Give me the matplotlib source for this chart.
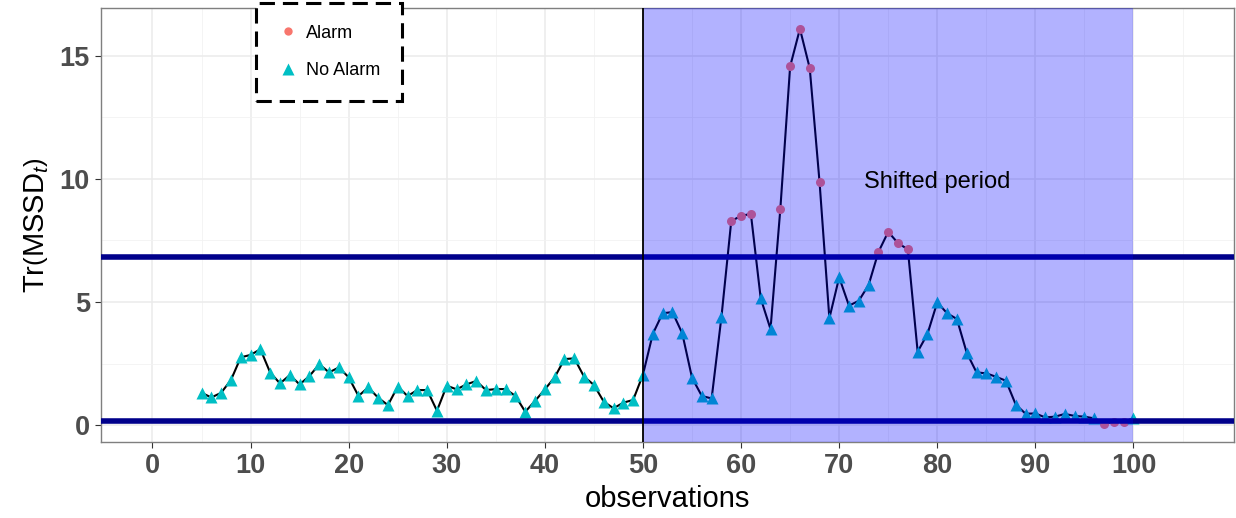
import numpy as np
import matplotlib
matplotlib.use("Agg")
import matplotlib.pyplot as plt
from matplotlib.lines import Line2D

plt.rcParams["font.family"] = ["Liberation Sans", "DejaVu Sans"]
plt.rcParams["mathtext.fontset"] = "custom"
plt.rcParams["mathtext.rm"] = "Liberation Sans"
plt.rcParams["mathtext.it"] = "Liberation Sans:italic"

# ---------------- data ----------------
obs = np.arange(5, 101)
mssd = [1.31, 1.12, 1.31, 1.83, 2.75, 2.85, 3.08, 2.13, 1.69, 2.03,
        1.65, 1.99, 2.47, 2.14, 2.34, 1.94, 1.18, 1.53, 1.11, 0.81,
        1.56, 1.18, 1.42, 1.42, 0.58, 1.60, 1.45, 1.65, 1.79, 1.42,
        1.46, 1.46, 1.18, 0.54, 0.98, 1.45, 1.94, 2.68, 2.71, 1.96,
        1.63, 0.95, 0.68, 0.91, 1.02, 2.05, 3.70, 4.54, 4.59, 3.73,
        1.92, 1.18, 1.08, 4.40, 8.29, 8.50, 8.58, 5.15, 3.90, 8.77,
        14.57, 16.10, 14.50, 9.87, 4.34, 6.00, 4.85, 5.05, 5.69, 7.03,
        7.85, 7.39, 7.14, 2.98, 3.70, 4.99, 4.54, 4.31, 2.94, 2.14,
        2.10, 1.96, 1.80, 0.83, 0.46, 0.47, 0.31, 0.34, 0.45, 0.37,
        0.34, 0.27, 0.06, 0.13, 0.13, 0.27]
alarm_obs = [59, 60, 61, 64, 65, 66, 67, 68, 74, 75, 76, 77, 97, 98, 99]
upper_limit = 6.83
lower_limit = 0.16
shift_start, shift_end = 50, 100

mssd = np.array(mssd)
is_alarm = np.isin(obs, alarm_obs)

ALARM_COL = "#F8766D"
NOALARM_COL = "#00BFC4"
GRAY = "#4D4D4D"

fig = plt.figure(figsize=(12.36, 5.18), dpi=100)
ax = fig.add_axes([0.0817, 0.1467, 0.9167, 0.838])

ax.plot(obs, mssd, color="black", lw=1.5, zorder=3)
ax.plot(obs[is_alarm], mssd[is_alarm], "o", color=ALARM_COL, ms=6.5,
        mec="none", zorder=4)
ax.plot(obs[~is_alarm], mssd[~is_alarm], "^", color=NOALARM_COL, ms=9,
        mec="none", zorder=4)

ax.axhline(upper_limit, color="#00008B", lw=4, zorder=5)
ax.axhline(lower_limit, color="#00008B", lw=4, zorder=5)
ax.axvspan(shift_start, shift_end, color="blue", alpha=0.3, lw=0, zorder=6)
ax.axvline(shift_start, color="black", lw=1.3, zorder=7)
ax.text(80, 9.63, "Shifted period", fontsize=17, ha="center", va="baseline",
        zorder=8)

# ---------------- axes styling (theme_bw look) ----------------
ax.set_xlim(-5.25, 110.25)
ax.set_ylim(-0.69, 16.95)
ax.set_xticks(np.arange(0, 101, 10))
ax.set_xticks(np.arange(5, 111, 10), minor=True)
ax.set_yticks([0, 5, 10, 15])
ax.set_yticks([2.5, 7.5, 12.5], minor=True)
ax.grid(which="major", color="#EBEBEB", lw=1.1, zorder=0)
ax.grid(which="minor", color="#F2F2F2", lw=0.6, zorder=0)
ax.set_axisbelow(True)
for s in ax.spines.values():
    s.set_color("#7F7F7F")
    s.set_linewidth(1.0)
ax.tick_params(which="major", length=4, color="#333333", labelsize=19.5,
               labelcolor=GRAY, pad=4)
ax.tick_params(which="minor", length=0)
for lab in ax.get_xticklabels() + ax.get_yticklabels():
    lab.set_fontweight("bold")

ax.set_xlabel("observations", fontsize=21, labelpad=4.5)
ax.set_ylabel(r"$\mathrm{Tr}\left(\mathrm{MSSD}_t\right)$", fontsize=21,
              labelpad=6)

handles = [Line2D([], [], marker="o", ls="", color=ALARM_COL, ms=6, mec="none"),
           Line2D([], [], marker="^", ls="", color=NOALARM_COL, ms=8, mec="none")]
leg = fig.legend(handles, ["Alarm", "No Alarm"], loc="upper left",
                 bbox_to_anchor=(0.2071, 0.9942), borderaxespad=0,
                 fontsize=13, frameon=True, fancybox=False,
                 handletextpad=0.45, borderpad=1.2, labelspacing=1.15,
                 handlelength=1.1)
fr = leg.get_frame()
fr.set_edgecolor("black")
fr.set_linewidth(2.2)
fr.set_linestyle((0, (5, 2.6)))
fr.set_facecolor("white")
fr.set_alpha(1)

fig.savefig("out.png", dpi=100)
